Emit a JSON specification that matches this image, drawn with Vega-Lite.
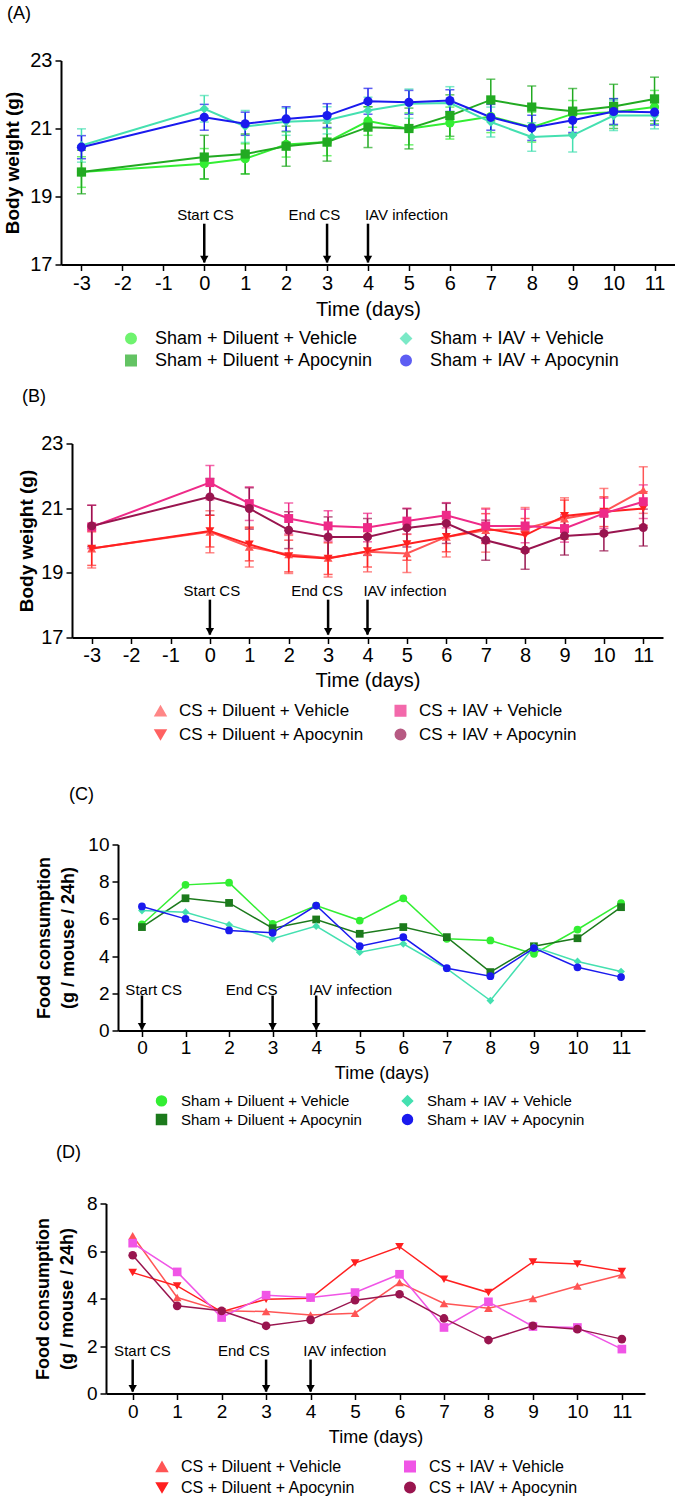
{
"$schema": "https://vega.github.io/schema/vega-lite/v6.json",
"padding": {"left": 0, "top": 4.5, "right": 0, "bottom": 0},
"background": "white",
"spacing": 0,
"resolve": {"scale": {"x": "independent", "y": "independent", "color": "independent", "shape": "independent"}, "legend": {"color": "independent", "shape": "independent"}, "axis": {"x": "independent", "y": "independent"}},
"config": {
  "view": {"stroke": null},
  "font": "Liberation Sans",
  "axis": {"domainColor": "#000", "domainWidth": 2, "tickColor": "#000", "tickWidth": 1.5, "tickSize": 6, "labelColor": "#000", "titleColor": "#000", "grid": false, "labelFlush": false, "labelOverlap": false, "labelFont": "Liberation Sans", "titleFont": "Liberation Sans"},
  "legend": {"labelColor": "#000", "labelFont": "Liberation Sans", "padding": 0, "symbolStrokeWidth": 2, "labelLimit": 400},
  "title": {"color": "#000", "font": "Liberation Sans", "fontWeight": "normal", "anchor": "start", "frame": "group", "baseline": "bottom"}
},
"datasets": {
  "dA": [
    {"group": "Sham + Diluent + Vehicle", "day": -3, "v": 19.72, "e": 0.45},
    {"group": "Sham + Diluent + Vehicle", "day": 0, "v": 19.96, "e": 0.45},
    {"group": "Sham + Diluent + Vehicle", "day": 1, "v": 20.11, "e": 0.44},
    {"group": "Sham + Diluent + Vehicle", "day": 2, "v": 20.53, "e": 0.37},
    {"group": "Sham + Diluent + Vehicle", "day": 3, "v": 20.6, "e": 0.4},
    {"group": "Sham + Diluent + Vehicle", "day": 4, "v": 21.22, "e": 0.42},
    {"group": "Sham + Diluent + Vehicle", "day": 5, "v": 20.99, "e": 0.47},
    {"group": "Sham + Diluent + Vehicle", "day": 6, "v": 21.16, "e": 0.47},
    {"group": "Sham + Diluent + Vehicle", "day": 7, "v": 21.35, "e": 0.47},
    {"group": "Sham + Diluent + Vehicle", "day": 8, "v": 21.04, "e": 0.44},
    {"group": "Sham + Diluent + Vehicle", "day": 9, "v": 21.43, "e": 0.39},
    {"group": "Sham + Diluent + Vehicle", "day": 10, "v": 21.48, "e": 0.39},
    {"group": "Sham + Diluent + Vehicle", "day": 11, "v": 21.63, "e": 0.49},
    {"group": "Sham + Diluent + Apocynin", "day": -3, "v": 19.72, "e": 0.64},
    {"group": "Sham + Diluent + Apocynin", "day": 0, "v": 20.16, "e": 0.64},
    {"group": "Sham + Diluent + Apocynin", "day": 1, "v": 20.25, "e": 0.59},
    {"group": "Sham + Diluent + Apocynin", "day": 2, "v": 20.48, "e": 0.59},
    {"group": "Sham + Diluent + Apocynin", "day": 3, "v": 20.6, "e": 0.56},
    {"group": "Sham + Diluent + Apocynin", "day": 4, "v": 21.04, "e": 0.6},
    {"group": "Sham + Diluent + Apocynin", "day": 5, "v": 21.0, "e": 0.6},
    {"group": "Sham + Diluent + Apocynin", "day": 6, "v": 21.38, "e": 0.61},
    {"group": "Sham + Diluent + Apocynin", "day": 7, "v": 21.84, "e": 0.61},
    {"group": "Sham + Diluent + Apocynin", "day": 8, "v": 21.63, "e": 0.62},
    {"group": "Sham + Diluent + Apocynin", "day": 9, "v": 21.51, "e": 0.67},
    {"group": "Sham + Diluent + Apocynin", "day": 10, "v": 21.65, "e": 0.65},
    {"group": "Sham + Diluent + Apocynin", "day": 11, "v": 21.87, "e": 0.64},
    {"group": "Sham + IAV + Vehicle", "day": -3, "v": 20.5, "e": 0.49},
    {"group": "Sham + IAV + Vehicle", "day": 0, "v": 21.58, "e": 0.39},
    {"group": "Sham + IAV + Vehicle", "day": 1, "v": 21.06, "e": 0.47},
    {"group": "Sham + IAV + Vehicle", "day": 2, "v": 21.2, "e": 0.4},
    {"group": "Sham + IAV + Vehicle", "day": 3, "v": 21.24, "e": 0.4},
    {"group": "Sham + IAV + Vehicle", "day": 4, "v": 21.53, "e": 0.39},
    {"group": "Sham + IAV + Vehicle", "day": 5, "v": 21.73, "e": 0.43},
    {"group": "Sham + IAV + Vehicle", "day": 6, "v": 21.75, "e": 0.48},
    {"group": "Sham + IAV + Vehicle", "day": 7, "v": 21.19, "e": 0.44},
    {"group": "Sham + IAV + Vehicle", "day": 8, "v": 20.75, "e": 0.42},
    {"group": "Sham + IAV + Vehicle", "day": 9, "v": 20.8, "e": 0.49},
    {"group": "Sham + IAV + Vehicle", "day": 10, "v": 21.38, "e": 0.44},
    {"group": "Sham + IAV + Vehicle", "day": 11, "v": 21.38, "e": 0.39},
    {"group": "Sham + IAV + Apocynin", "day": -3, "v": 20.45, "e": 0.34},
    {"group": "Sham + IAV + Apocynin", "day": 0, "v": 21.33, "e": 0.38},
    {"group": "Sham + IAV + Apocynin", "day": 1, "v": 21.14, "e": 0.34},
    {"group": "Sham + IAV + Apocynin", "day": 2, "v": 21.28, "e": 0.36},
    {"group": "Sham + IAV + Apocynin", "day": 3, "v": 21.38, "e": 0.35},
    {"group": "Sham + IAV + Apocynin", "day": 4, "v": 21.8, "e": 0.38},
    {"group": "Sham + IAV + Apocynin", "day": 5, "v": 21.77, "e": 0.35},
    {"group": "Sham + IAV + Apocynin", "day": 6, "v": 21.82, "e": 0.32},
    {"group": "Sham + IAV + Apocynin", "day": 7, "v": 21.33, "e": 0.38},
    {"group": "Sham + IAV + Apocynin", "day": 8, "v": 21.02, "e": 0.37},
    {"group": "Sham + IAV + Apocynin", "day": 9, "v": 21.24, "e": 0.36},
    {"group": "Sham + IAV + Apocynin", "day": 10, "v": 21.5, "e": 0.38},
    {"group": "Sham + IAV + Apocynin", "day": 11, "v": 21.48, "e": 0.38}
  ],
  "dB": [
    {"group": "CS + Diluent + Vehicle", "day": -3, "v": 19.75, "e": 0.6},
    {"group": "CS + Diluent + Vehicle", "day": 0, "v": 20.27, "e": 0.65},
    {"group": "CS + Diluent + Vehicle", "day": 1, "v": 19.8, "e": 0.62},
    {"group": "CS + Diluent + Vehicle", "day": 2, "v": 19.57, "e": 0.59},
    {"group": "CS + Diluent + Vehicle", "day": 3, "v": 19.46, "e": 0.59},
    {"group": "CS + Diluent + Vehicle", "day": 4, "v": 19.65, "e": 0.62},
    {"group": "CS + Diluent + Vehicle", "day": 5, "v": 19.6, "e": 0.59},
    {"group": "CS + Diluent + Vehicle", "day": 6, "v": 20.11, "e": 0.62},
    {"group": "CS + Diluent + Vehicle", "day": 7, "v": 20.32, "e": 0.68},
    {"group": "CS + Diluent + Vehicle", "day": 8, "v": 20.37, "e": 0.65},
    {"group": "CS + Diluent + Vehicle", "day": 9, "v": 20.68, "e": 0.64},
    {"group": "CS + Diluent + Vehicle", "day": 10, "v": 20.89, "e": 0.72},
    {"group": "CS + Diluent + Vehicle", "day": 11, "v": 21.56, "e": 0.72},
    {"group": "CS + Diluent + Apocynin", "day": -3, "v": 19.75, "e": 0.52},
    {"group": "CS + Diluent + Apocynin", "day": 0, "v": 20.29, "e": 0.49},
    {"group": "CS + Diluent + Apocynin", "day": 1, "v": 19.88, "e": 0.51},
    {"group": "CS + Diluent + Apocynin", "day": 2, "v": 19.52, "e": 0.49},
    {"group": "CS + Diluent + Apocynin", "day": 3, "v": 19.44, "e": 0.49},
    {"group": "CS + Diluent + Apocynin", "day": 4, "v": 19.67, "e": 0.49},
    {"group": "CS + Diluent + Apocynin", "day": 5, "v": 19.89, "e": 0.5},
    {"group": "CS + Diluent + Apocynin", "day": 6, "v": 20.11, "e": 0.46},
    {"group": "CS + Diluent + Apocynin", "day": 7, "v": 20.37, "e": 0.46},
    {"group": "CS + Diluent + Apocynin", "day": 8, "v": 20.16, "e": 0.52},
    {"group": "CS + Diluent + Apocynin", "day": 9, "v": 20.76, "e": 0.49},
    {"group": "CS + Diluent + Apocynin", "day": 10, "v": 20.89, "e": 0.46},
    {"group": "CS + Diluent + Apocynin", "day": 11, "v": 20.99, "e": 0.52},
    {"group": "CS + IAV + Vehicle", "day": -3, "v": 20.42, "e": 0.67},
    {"group": "CS + IAV + Vehicle", "day": 0, "v": 21.79, "e": 0.53},
    {"group": "CS + IAV + Vehicle", "day": 1, "v": 21.14, "e": 0.52},
    {"group": "CS + IAV + Vehicle", "day": 2, "v": 20.68, "e": 0.48},
    {"group": "CS + IAV + Vehicle", "day": 3, "v": 20.45, "e": 0.47},
    {"group": "CS + IAV + Vehicle", "day": 4, "v": 20.4, "e": 0.44},
    {"group": "CS + IAV + Vehicle", "day": 5, "v": 20.6, "e": 0.4},
    {"group": "CS + IAV + Vehicle", "day": 6, "v": 20.78, "e": 0.39},
    {"group": "CS + IAV + Vehicle", "day": 7, "v": 20.45, "e": 0.52},
    {"group": "CS + IAV + Vehicle", "day": 8, "v": 20.45, "e": 0.52},
    {"group": "CS + IAV + Vehicle", "day": 9, "v": 20.37, "e": 0.42},
    {"group": "CS + IAV + Vehicle", "day": 10, "v": 20.84, "e": 0.47},
    {"group": "CS + IAV + Vehicle", "day": 11, "v": 21.2, "e": 0.52},
    {"group": "CS + IAV + Apocynin", "day": -3, "v": 20.45, "e": 0.64},
    {"group": "CS + IAV + Apocynin", "day": 0, "v": 21.35, "e": 0.57},
    {"group": "CS + IAV + Apocynin", "day": 1, "v": 20.99, "e": 0.64},
    {"group": "CS + IAV + Apocynin", "day": 2, "v": 20.32, "e": 0.57},
    {"group": "CS + IAV + Apocynin", "day": 3, "v": 20.11, "e": 0.62},
    {"group": "CS + IAV + Apocynin", "day": 4, "v": 20.11, "e": 0.57},
    {"group": "CS + IAV + Apocynin", "day": 5, "v": 20.39, "e": 0.59},
    {"group": "CS + IAV + Apocynin", "day": 6, "v": 20.53, "e": 0.62},
    {"group": "CS + IAV + Apocynin", "day": 7, "v": 20.01, "e": 0.62},
    {"group": "CS + IAV + Apocynin", "day": 8, "v": 19.7, "e": 0.59},
    {"group": "CS + IAV + Apocynin", "day": 9, "v": 20.14, "e": 0.59},
    {"group": "CS + IAV + Apocynin", "day": 10, "v": 20.22, "e": 0.54},
    {"group": "CS + IAV + Apocynin", "day": 11, "v": 20.4, "e": 0.57}
  ],
  "dC": [
    {"group": "Sham + Diluent + Vehicle", "day": 0, "v": 5.7},
    {"group": "Sham + Diluent + Vehicle", "day": 1, "v": 7.83},
    {"group": "Sham + Diluent + Vehicle", "day": 2, "v": 7.95},
    {"group": "Sham + Diluent + Vehicle", "day": 3, "v": 5.73},
    {"group": "Sham + Diluent + Vehicle", "day": 4, "v": 6.72},
    {"group": "Sham + Diluent + Vehicle", "day": 5, "v": 5.91},
    {"group": "Sham + Diluent + Vehicle", "day": 6, "v": 7.11},
    {"group": "Sham + Diluent + Vehicle", "day": 7, "v": 4.93},
    {"group": "Sham + Diluent + Vehicle", "day": 8, "v": 4.84},
    {"group": "Sham + Diluent + Vehicle", "day": 9, "v": 4.12},
    {"group": "Sham + Diluent + Vehicle", "day": 10, "v": 5.43},
    {"group": "Sham + Diluent + Vehicle", "day": 11, "v": 6.85},
    {"group": "Sham + Diluent + Apocynin", "day": 0, "v": 5.56},
    {"group": "Sham + Diluent + Apocynin", "day": 1, "v": 7.11},
    {"group": "Sham + Diluent + Apocynin", "day": 2, "v": 6.86},
    {"group": "Sham + Diluent + Apocynin", "day": 3, "v": 5.5},
    {"group": "Sham + Diluent + Apocynin", "day": 4, "v": 5.97},
    {"group": "Sham + Diluent + Apocynin", "day": 5, "v": 5.2},
    {"group": "Sham + Diluent + Apocynin", "day": 6, "v": 5.56},
    {"group": "Sham + Diluent + Apocynin", "day": 7, "v": 5.02},
    {"group": "Sham + Diluent + Apocynin", "day": 8, "v": 3.14},
    {"group": "Sham + Diluent + Apocynin", "day": 9, "v": 4.53},
    {"group": "Sham + Diluent + Apocynin", "day": 10, "v": 4.96},
    {"group": "Sham + Diluent + Apocynin", "day": 11, "v": 6.63},
    {"group": "Sham + IAV + Vehicle", "day": 0, "v": 6.45},
    {"group": "Sham + IAV + Vehicle", "day": 1, "v": 6.36},
    {"group": "Sham + IAV + Vehicle", "day": 2, "v": 5.68},
    {"group": "Sham + IAV + Vehicle", "day": 3, "v": 4.93},
    {"group": "Sham + IAV + Vehicle", "day": 4, "v": 5.61},
    {"group": "Sham + IAV + Vehicle", "day": 5, "v": 4.21},
    {"group": "Sham + IAV + Vehicle", "day": 6, "v": 4.66},
    {"group": "Sham + IAV + Vehicle", "day": 7, "v": 3.32},
    {"group": "Sham + IAV + Vehicle", "day": 8, "v": 1.61},
    {"group": "Sham + IAV + Vehicle", "day": 9, "v": 4.5},
    {"group": "Sham + IAV + Vehicle", "day": 10, "v": 3.71},
    {"group": "Sham + IAV + Vehicle", "day": 11, "v": 3.17},
    {"group": "Sham + IAV + Apocynin", "day": 0, "v": 6.67},
    {"group": "Sham + IAV + Apocynin", "day": 1, "v": 6.0},
    {"group": "Sham + IAV + Apocynin", "day": 2, "v": 5.38},
    {"group": "Sham + IAV + Apocynin", "day": 3, "v": 5.25},
    {"group": "Sham + IAV + Apocynin", "day": 4, "v": 6.72},
    {"group": "Sham + IAV + Apocynin", "day": 5, "v": 4.53},
    {"group": "Sham + IAV + Apocynin", "day": 6, "v": 5.02},
    {"group": "Sham + IAV + Apocynin", "day": 7, "v": 3.35},
    {"group": "Sham + IAV + Apocynin", "day": 8, "v": 2.92},
    {"group": "Sham + IAV + Apocynin", "day": 9, "v": 4.43},
    {"group": "Sham + IAV + Apocynin", "day": 10, "v": 3.4},
    {"group": "Sham + IAV + Apocynin", "day": 11, "v": 2.87}
  ],
  "dD": [
    {"group": "CS + Diluent + Vehicle", "day": 0, "v": 6.64},
    {"group": "CS + Diluent + Vehicle", "day": 1, "v": 4.04},
    {"group": "CS + Diluent + Vehicle", "day": 2, "v": 3.48},
    {"group": "CS + Diluent + Vehicle", "day": 3, "v": 3.45},
    {"group": "CS + Diluent + Vehicle", "day": 4, "v": 3.31},
    {"group": "CS + Diluent + Vehicle", "day": 5, "v": 3.38},
    {"group": "CS + Diluent + Vehicle", "day": 6, "v": 4.67},
    {"group": "CS + Diluent + Vehicle", "day": 7, "v": 3.79},
    {"group": "CS + Diluent + Vehicle", "day": 8, "v": 3.59},
    {"group": "CS + Diluent + Vehicle", "day": 9, "v": 4.0},
    {"group": "CS + Diluent + Vehicle", "day": 10, "v": 4.53},
    {"group": "CS + Diluent + Vehicle", "day": 11, "v": 5.0},
    {"group": "CS + Diluent + Apocynin", "day": 0, "v": 5.09},
    {"group": "CS + Diluent + Apocynin", "day": 1, "v": 4.53},
    {"group": "CS + Diluent + Apocynin", "day": 2, "v": 3.44},
    {"group": "CS + Diluent + Apocynin", "day": 3, "v": 3.97},
    {"group": "CS + Diluent + Apocynin", "day": 4, "v": 4.01},
    {"group": "CS + Diluent + Apocynin", "day": 5, "v": 5.49},
    {"group": "CS + Diluent + Apocynin", "day": 6, "v": 6.18},
    {"group": "CS + Diluent + Apocynin", "day": 7, "v": 4.81},
    {"group": "CS + Diluent + Apocynin", "day": 8, "v": 4.25},
    {"group": "CS + Diluent + Apocynin", "day": 9, "v": 5.54},
    {"group": "CS + Diluent + Apocynin", "day": 10, "v": 5.45},
    {"group": "CS + Diluent + Apocynin", "day": 11, "v": 5.14},
    {"group": "CS + IAV + Vehicle", "day": 0, "v": 6.33},
    {"group": "CS + IAV + Vehicle", "day": 1, "v": 5.12},
    {"group": "CS + IAV + Vehicle", "day": 2, "v": 3.2},
    {"group": "CS + IAV + Vehicle", "day": 3, "v": 4.14},
    {"group": "CS + IAV + Vehicle", "day": 4, "v": 4.04},
    {"group": "CS + IAV + Vehicle", "day": 5, "v": 4.25},
    {"group": "CS + IAV + Vehicle", "day": 6, "v": 5.02},
    {"group": "CS + IAV + Vehicle", "day": 7, "v": 2.78},
    {"group": "CS + IAV + Vehicle", "day": 8, "v": 3.86},
    {"group": "CS + IAV + Vehicle", "day": 9, "v": 2.82},
    {"group": "CS + IAV + Vehicle", "day": 10, "v": 2.78},
    {"group": "CS + IAV + Vehicle", "day": 11, "v": 1.87},
    {"group": "CS + IAV + Apocynin", "day": 0, "v": 5.82},
    {"group": "CS + IAV + Apocynin", "day": 1, "v": 3.69},
    {"group": "CS + IAV + Apocynin", "day": 2, "v": 3.48},
    {"group": "CS + IAV + Apocynin", "day": 3, "v": 2.85},
    {"group": "CS + IAV + Apocynin", "day": 4, "v": 3.1},
    {"group": "CS + IAV + Apocynin", "day": 5, "v": 3.93},
    {"group": "CS + IAV + Apocynin", "day": 6, "v": 4.18},
    {"group": "CS + IAV + Apocynin", "day": 7, "v": 3.16},
    {"group": "CS + IAV + Apocynin", "day": 8, "v": 2.25},
    {"group": "CS + IAV + Apocynin", "day": 9, "v": 2.85},
    {"group": "CS + IAV + Apocynin", "day": 10, "v": 2.71},
    {"group": "CS + IAV + Apocynin", "day": 11, "v": 2.29}
  ],
  "aA": [
    {"label": "Start CS", "day": 0, "lx": 0.03, "ly": 18.47, "top": 18.2, "tip": 17.06},
    {"label": "End CS", "day": 3, "lx": 2.69, "ly": 18.47, "top": 18.2, "tip": 17.06},
    {"label": "IAV infection", "day": 4, "lx": 4.94, "ly": 18.47, "top": 18.2, "tip": 17.06}
  ],
  "aB": [
    {"label": "Start CS", "day": 0, "lx": 0.05, "ly": 18.45, "top": 18.17, "tip": 17.09},
    {"label": "End CS", "day": 3, "lx": 2.72, "ly": 18.45, "top": 18.17, "tip": 17.09},
    {"label": "IAV infection", "day": 4, "lx": 4.95, "ly": 18.45, "top": 18.17, "tip": 17.09}
  ],
  "aC": [
    {"label": "Start CS", "day": 0, "lx": 0.27, "ly": 2.2, "top": 1.88, "tip": 0.05},
    {"label": "End CS", "day": 3, "lx": 2.52, "ly": 2.2, "top": 1.88, "tip": 0.05},
    {"label": "IAV infection", "day": 4, "lx": 4.79, "ly": 2.2, "top": 1.88, "tip": 0.05}
  ],
  "aD": [
    {"label": "Start CS", "day": 0, "lx": 0.22, "ly": 1.77, "top": 1.43, "tip": 0.08},
    {"label": "End CS", "day": 3, "lx": 2.5, "ly": 1.77, "top": 1.43, "tip": 0.08},
    {"label": "IAV infection", "day": 4, "lx": 4.77, "ly": 1.77, "top": 1.43, "tip": 0.08}
  ]
},
"vconcat": [
 {"hconcat": [
   {"width": 61, "height": 327, "data": {"values": []}, "mark": "point"},
   {"width": 614, "height": 204,
    "title": {"text": "(A)", "dx": -54, "offset": 28, "fontSize": 18},
    "layer": [
     {"data": {"name": "dA"}, "mark": {"type": "errorbar", "ticks": true, "thickness": 1.5, "size": 9},
      "encoding": {
        "x": {"field": "day", "type": "quantitative", "scale": {"domain": [-3.5, 11.5], "nice": false, "zero": false}, "axis": {"title": "Time (days)", "values": [-3,-2,-1,0,1,2,3,4,5,6,7,8,9,10,11], "labelExpr": "'' + datum.value", "labelFontSize": 20, "titleFontSize": 20, "titleFontWeight": "normal", "labelPadding": 3, "titlePadding": 6}},
        "y": {"field": "v", "type": "quantitative", "scale": {"domain": [17, 23], "nice": false, "zero": false}, "axis": {"title": "Body weight (g)", "values": [17, 19, 21, 23], "format": "d", "labelFontSize": 20, "titleFontSize": 19, "titleFontWeight": "bold", "labelPadding": 3, "titlePadding": 7}},
        "yError": {"field": "e"},
        "color": {"field": "group", "type": "nominal", "scale": {"domain": ["Sham + Diluent + Vehicle", "Sham + Diluent + Apocynin", "Sham + IAV + Vehicle", "Sham + IAV + Apocynin"], "range": ["#33ee33", "#22aa22", "#44e0b0", "#1a1aee"]}}}},
     {"data": {"name": "dA"}, "mark": {"type": "line", "strokeWidth": 2},
      "encoding": {
        "x": {"field": "day", "type": "quantitative", "scale": {"domain": [-3.5, 11.5], "nice": false, "zero": false}, "axis": {"title": "Time (days)", "values": [-3,-2,-1,0,1,2,3,4,5,6,7,8,9,10,11], "labelExpr": "'' + datum.value", "labelFontSize": 20, "titleFontSize": 20, "titleFontWeight": "normal", "labelPadding": 3, "titlePadding": 6}},
        "y": {"field": "v", "type": "quantitative", "scale": {"domain": [17, 23], "nice": false, "zero": false}, "axis": {"title": "Body weight (g)", "values": [17, 19, 21, 23], "format": "d", "labelFontSize": 20, "titleFontSize": 19, "titleFontWeight": "bold", "labelPadding": 3, "titlePadding": 7}},
        "color": {"field": "group", "type": "nominal", "scale": {"domain": ["Sham + Diluent + Vehicle", "Sham + Diluent + Apocynin", "Sham + IAV + Vehicle", "Sham + IAV + Apocynin"], "range": ["#33ee33", "#22aa22", "#44e0b0", "#1a1aee"]}}}},
     {"data": {"name": "dA"}, "mark": {"type": "point", "filled": true, "opacity": 1, "size": 85},
      "encoding": {
        "x": {"field": "day", "type": "quantitative", "scale": {"domain": [-3.5, 11.5], "nice": false, "zero": false}, "axis": {"title": "Time (days)", "values": [-3,-2,-1,0,1,2,3,4,5,6,7,8,9,10,11], "labelExpr": "'' + datum.value", "labelFontSize": 20, "titleFontSize": 20, "titleFontWeight": "normal", "labelPadding": 3, "titlePadding": 6}},
        "y": {"field": "v", "type": "quantitative", "scale": {"domain": [17, 23], "nice": false, "zero": false}, "axis": {"title": "Body weight (g)", "values": [17, 19, 21, 23], "format": "d", "labelFontSize": 20, "titleFontSize": 19, "titleFontWeight": "bold", "labelPadding": 3, "titlePadding": 7}},
        "shape": {"field": "group", "type": "nominal", "scale": {"domain": ["Sham + Diluent + Vehicle", "Sham + Diluent + Apocynin", "Sham + IAV + Vehicle", "Sham + IAV + Apocynin"], "range": ["circle", "square", "diamond", "circle"]},
          "legend": {"title": null, "orient": "none", "legendX": 61, "legendY": 269, "columns": 2, "columnPadding": 23, "rowPadding": 4, "labelFontSize": 18, "labelOffset": 15, "symbolSize": 100}},
        "color": {"field": "group", "type": "nominal", "scale": {"domain": ["Sham + Diluent + Vehicle", "Sham + Diluent + Apocynin", "Sham + IAV + Vehicle", "Sham + IAV + Apocynin"], "range": ["#33ee33", "#22aa22", "#44e0b0", "#1a1aee"]},
          "legend": {"title": null, "orient": "none", "legendX": 61, "legendY": 269, "columns": 2, "columnPadding": 23, "rowPadding": 4, "labelFontSize": 18, "labelOffset": 15, "symbolSize": 100}}}},
     {"data": {"name": "aA"}, "mark": {"type": "rule", "color": "#000", "strokeWidth": 2.5},
      "encoding": {
        "x": {"field": "day", "type": "quantitative", "scale": {"domain": [-3.5, 11.5], "nice": false, "zero": false}, "axis": {"title": "Time (days)", "values": [-3,-2,-1,0,1,2,3,4,5,6,7,8,9,10,11], "labelExpr": "'' + datum.value", "labelFontSize": 20, "titleFontSize": 20, "titleFontWeight": "normal", "labelPadding": 3, "titlePadding": 6}},
        "y": {"field": "top", "type": "quantitative", "scale": {"domain": [17, 23], "nice": false, "zero": false}, "axis": {"title": "Body weight (g)", "values": [17, 19, 21, 23], "format": "d", "labelFontSize": 20, "titleFontSize": 19, "titleFontWeight": "bold", "labelPadding": 3, "titlePadding": 7}},
        "y2": {"field": "tip"}}},
     {"data": {"name": "aA"}, "mark": {"type": "point", "shape": "triangle-down", "filled": true, "color": "#000", "opacity": 1, "size": 70, "yOffset": -3},
      "encoding": {
        "x": {"field": "day", "type": "quantitative", "scale": {"domain": [-3.5, 11.5], "nice": false, "zero": false}, "axis": {"title": "Time (days)", "values": [-3,-2,-1,0,1,2,3,4,5,6,7,8,9,10,11], "labelExpr": "'' + datum.value", "labelFontSize": 20, "titleFontSize": 20, "titleFontWeight": "normal", "labelPadding": 3, "titlePadding": 6}},
        "y": {"field": "tip", "type": "quantitative", "scale": {"domain": [17, 23], "nice": false, "zero": false}, "axis": {"title": "Body weight (g)", "values": [17, 19, 21, 23], "format": "d", "labelFontSize": 20, "titleFontSize": 19, "titleFontWeight": "bold", "labelPadding": 3, "titlePadding": 7}}}},
     {"data": {"name": "aA"}, "mark": {"type": "text", "fontSize": 15, "color": "#000", "align": "center", "baseline": "middle"},
      "encoding": {
        "x": {"field": "lx", "type": "quantitative", "scale": {"domain": [-3.5, 11.5], "nice": false, "zero": false}, "axis": {"title": "Time (days)", "values": [-3,-2,-1,0,1,2,3,4,5,6,7,8,9,10,11], "labelExpr": "'' + datum.value", "labelFontSize": 20, "titleFontSize": 20, "titleFontWeight": "normal", "labelPadding": 3, "titlePadding": 6}},
        "y": {"field": "ly", "type": "quantitative", "scale": {"domain": [17, 23], "nice": false, "zero": false}, "axis": {"title": "Body weight (g)", "values": [17, 19, 21, 23], "format": "d", "labelFontSize": 20, "titleFontSize": 19, "titleFontWeight": "bold", "labelPadding": 3, "titlePadding": 7}},
        "text": {"field": "label"}}}
    ]}
  ],
  "spacing": 0, "bounds": "flush",
  "resolve": {"scale": {"x": "independent", "y": "independent", "color": "independent", "shape": "independent"}, "legend": {"color": "independent", "shape": "independent"}}},
 {"hconcat": [
   {"width": 72, "height": 341.5, "data": {"values": []}, "mark": "point"},
   {"width": 591, "height": 194,
    "title": {"text": "(B)", "dx": -50, "offset": 28, "fontSize": 18},
    "layer": [
     {"data": {"name": "dB"}, "mark": {"type": "errorbar", "ticks": true, "thickness": 1.5, "size": 9},
      "encoding": {
        "x": {"field": "day", "type": "quantitative", "scale": {"domain": [-3.5, 11.5], "nice": false, "zero": false}, "axis": {"title": "Time (days)", "values": [-3,-2,-1,0,1,2,3,4,5,6,7,8,9,10,11], "labelExpr": "'' + datum.value", "labelFontSize": 20, "titleFontSize": 20, "titleFontWeight": "normal", "labelPadding": 2, "titlePadding": 5}},
        "y": {"field": "v", "type": "quantitative", "scale": {"domain": [17, 23], "nice": false, "zero": false}, "axis": {"title": "Body weight (g)", "values": [17, 19, 21, 23], "format": "d", "labelFontSize": 20, "titleFontSize": 19, "titleFontWeight": "bold", "labelPadding": 3, "titlePadding": 4}},
        "yError": {"field": "e"},
        "color": {"field": "group", "type": "nominal", "scale": {"domain": ["CS + Diluent + Vehicle", "CS + Diluent + Apocynin", "CS + IAV + Vehicle", "CS + IAV + Apocynin"], "range": ["#ff5555", "#ff2020", "#ee2a88", "#99154f"]}}}},
     {"data": {"name": "dB"}, "mark": {"type": "line", "strokeWidth": 2},
      "encoding": {
        "x": {"field": "day", "type": "quantitative", "scale": {"domain": [-3.5, 11.5], "nice": false, "zero": false}, "axis": {"title": "Time (days)", "values": [-3,-2,-1,0,1,2,3,4,5,6,7,8,9,10,11], "labelExpr": "'' + datum.value", "labelFontSize": 20, "titleFontSize": 20, "titleFontWeight": "normal", "labelPadding": 2, "titlePadding": 5}},
        "y": {"field": "v", "type": "quantitative", "scale": {"domain": [17, 23], "nice": false, "zero": false}, "axis": {"title": "Body weight (g)", "values": [17, 19, 21, 23], "format": "d", "labelFontSize": 20, "titleFontSize": 19, "titleFontWeight": "bold", "labelPadding": 3, "titlePadding": 4}},
        "color": {"field": "group", "type": "nominal", "scale": {"domain": ["CS + Diluent + Vehicle", "CS + Diluent + Apocynin", "CS + IAV + Vehicle", "CS + IAV + Apocynin"], "range": ["#ff5555", "#ff2020", "#ee2a88", "#99154f"]}}}},
     {"data": {"name": "dB"}, "mark": {"type": "point", "filled": true, "opacity": 1, "size": 80},
      "encoding": {
        "x": {"field": "day", "type": "quantitative", "scale": {"domain": [-3.5, 11.5], "nice": false, "zero": false}, "axis": {"title": "Time (days)", "values": [-3,-2,-1,0,1,2,3,4,5,6,7,8,9,10,11], "labelExpr": "'' + datum.value", "labelFontSize": 20, "titleFontSize": 20, "titleFontWeight": "normal", "labelPadding": 2, "titlePadding": 5}},
        "y": {"field": "v", "type": "quantitative", "scale": {"domain": [17, 23], "nice": false, "zero": false}, "axis": {"title": "Body weight (g)", "values": [17, 19, 21, 23], "format": "d", "labelFontSize": 20, "titleFontSize": 19, "titleFontWeight": "bold", "labelPadding": 3, "titlePadding": 4}},
        "shape": {"field": "group", "type": "nominal", "scale": {"domain": ["CS + Diluent + Vehicle", "CS + Diluent + Apocynin", "CS + IAV + Vehicle", "CS + IAV + Apocynin"], "range": ["triangle-up", "triangle-down", "square", "circle"]},
          "legend": {"title": null, "orient": "none", "legendX": 80, "legendY": 258.5, "columns": 2, "columnPadding": 26, "rowPadding": 5, "labelFontSize": 17, "labelOffset": 10, "symbolSize": 100}},
        "color": {"field": "group", "type": "nominal", "scale": {"domain": ["CS + Diluent + Vehicle", "CS + Diluent + Apocynin", "CS + IAV + Vehicle", "CS + IAV + Apocynin"], "range": ["#ff5555", "#ff2020", "#ee2a88", "#99154f"]},
          "legend": {"title": null, "orient": "none", "legendX": 80, "legendY": 258.5, "columns": 2, "columnPadding": 26, "rowPadding": 5, "labelFontSize": 17, "labelOffset": 10, "symbolSize": 100}}}},
     {"data": {"name": "aB"}, "mark": {"type": "rule", "color": "#000", "strokeWidth": 2.5},
      "encoding": {
        "x": {"field": "day", "type": "quantitative", "scale": {"domain": [-3.5, 11.5], "nice": false, "zero": false}, "axis": {"title": "Time (days)", "values": [-3,-2,-1,0,1,2,3,4,5,6,7,8,9,10,11], "labelExpr": "'' + datum.value", "labelFontSize": 20, "titleFontSize": 20, "titleFontWeight": "normal", "labelPadding": 2, "titlePadding": 5}},
        "y": {"field": "top", "type": "quantitative", "scale": {"domain": [17, 23], "nice": false, "zero": false}, "axis": {"title": "Body weight (g)", "values": [17, 19, 21, 23], "format": "d", "labelFontSize": 20, "titleFontSize": 19, "titleFontWeight": "bold", "labelPadding": 3, "titlePadding": 4}},
        "y2": {"field": "tip"}}},
     {"data": {"name": "aB"}, "mark": {"type": "point", "shape": "triangle-down", "filled": true, "color": "#000", "opacity": 1, "size": 70, "yOffset": -3},
      "encoding": {
        "x": {"field": "day", "type": "quantitative", "scale": {"domain": [-3.5, 11.5], "nice": false, "zero": false}, "axis": {"title": "Time (days)", "values": [-3,-2,-1,0,1,2,3,4,5,6,7,8,9,10,11], "labelExpr": "'' + datum.value", "labelFontSize": 20, "titleFontSize": 20, "titleFontWeight": "normal", "labelPadding": 2, "titlePadding": 5}},
        "y": {"field": "tip", "type": "quantitative", "scale": {"domain": [17, 23], "nice": false, "zero": false}, "axis": {"title": "Body weight (g)", "values": [17, 19, 21, 23], "format": "d", "labelFontSize": 20, "titleFontSize": 19, "titleFontWeight": "bold", "labelPadding": 3, "titlePadding": 4}}}},
     {"data": {"name": "aB"}, "mark": {"type": "text", "fontSize": 15, "color": "#000", "align": "center", "baseline": "middle"},
      "encoding": {
        "x": {"field": "lx", "type": "quantitative", "scale": {"domain": [-3.5, 11.5], "nice": false, "zero": false}, "axis": {"title": "Time (days)", "values": [-3,-2,-1,0,1,2,3,4,5,6,7,8,9,10,11], "labelExpr": "'' + datum.value", "labelFontSize": 20, "titleFontSize": 20, "titleFontWeight": "normal", "labelPadding": 2, "titlePadding": 5}},
        "y": {"field": "ly", "type": "quantitative", "scale": {"domain": [17, 23], "nice": false, "zero": false}, "axis": {"title": "Body weight (g)", "values": [17, 19, 21, 23], "format": "d", "labelFontSize": 20, "titleFontSize": 19, "titleFontWeight": "bold", "labelPadding": 3, "titlePadding": 4}},
        "text": {"field": "label"}}}
    ]}
  ],
  "spacing": 0, "bounds": "flush",
  "resolve": {"scale": {"x": "independent", "y": "independent", "color": "independent", "shape": "independent"}, "legend": {"color": "independent", "shape": "independent"}}},
 {"hconcat": [
   {"width": 118, "height": 299, "data": {"values": []}, "mark": "point"},
   {"width": 527, "height": 186,
    "title": {"text": "(C)", "dx": -49, "offset": 32, "fontSize": 18},
    "layer": [
     {"data": {"name": "dC"}, "mark": {"type": "line", "strokeWidth": 1.5},
      "encoding": {
        "x": {"field": "day", "type": "quantitative", "scale": {"domain": [-0.55, 11.55], "nice": false, "zero": false}, "axis": {"title": "Time (days)", "values": [0,1,2,3,4,5,6,7,8,9,10,11], "format": "d", "labelFontSize": 19, "titleFontSize": 18, "titleFontWeight": "normal", "labelPadding": 2, "titlePadding": 7}},
        "y": {"field": "v", "type": "quantitative", "scale": {"domain": [0, 10], "nice": false, "zero": false}, "axis": {"title": ["Food consumption", "(g / mouse / 24h)"], "values": [0, 2, 4, 6, 8, 10], "format": "d", "labelFontSize": 19, "titleFontSize": 18, "titleFontWeight": "bold", "titleLineHeight": 24, "labelPadding": 3, "titlePadding": 10}},
        "color": {"field": "group", "type": "nominal", "scale": {"domain": ["Sham + Diluent + Vehicle", "Sham + Diluent + Apocynin", "Sham + IAV + Vehicle", "Sham + IAV + Apocynin"], "range": ["#33ee33", "#1c7a1c", "#44e0b0", "#1a1aee"]}}}},
     {"data": {"name": "dC"}, "mark": {"type": "point", "filled": true, "opacity": 1, "size": 60},
      "encoding": {
        "x": {"field": "day", "type": "quantitative", "scale": {"domain": [-0.55, 11.55], "nice": false, "zero": false}, "axis": {"title": "Time (days)", "values": [0,1,2,3,4,5,6,7,8,9,10,11], "format": "d", "labelFontSize": 19, "titleFontSize": 18, "titleFontWeight": "normal", "labelPadding": 2, "titlePadding": 7}},
        "y": {"field": "v", "type": "quantitative", "scale": {"domain": [0, 10], "nice": false, "zero": false}, "axis": {"title": ["Food consumption", "(g / mouse / 24h)"], "values": [0, 2, 4, 6, 8, 10], "format": "d", "labelFontSize": 19, "titleFontSize": 18, "titleFontWeight": "bold", "titleLineHeight": 24, "labelPadding": 3, "titlePadding": 10}},
        "shape": {"field": "group", "type": "nominal", "scale": {"domain": ["Sham + Diluent + Vehicle", "Sham + Diluent + Apocynin", "Sham + IAV + Vehicle", "Sham + IAV + Apocynin"], "range": ["circle", "square", "diamond", "circle"]},
          "legend": {"title": null, "orient": "none", "legendX": 36, "legendY": 248.5, "columns": 2, "columnPadding": 35, "rowPadding": 0, "labelFontSize": 15, "labelOffset": 12, "symbolSize": 90}},
        "color": {"field": "group", "type": "nominal", "scale": {"domain": ["Sham + Diluent + Vehicle", "Sham + Diluent + Apocynin", "Sham + IAV + Vehicle", "Sham + IAV + Apocynin"], "range": ["#33ee33", "#1c7a1c", "#44e0b0", "#1a1aee"]},
          "legend": {"title": null, "orient": "none", "legendX": 36, "legendY": 248.5, "columns": 2, "columnPadding": 35, "rowPadding": 0, "labelFontSize": 15, "labelOffset": 12, "symbolSize": 90}}}},
     {"data": {"name": "aC"}, "mark": {"type": "rule", "color": "#000", "strokeWidth": 2.5},
      "encoding": {
        "x": {"field": "day", "type": "quantitative", "scale": {"domain": [-0.55, 11.55], "nice": false, "zero": false}, "axis": {"title": "Time (days)", "values": [0,1,2,3,4,5,6,7,8,9,10,11], "format": "d", "labelFontSize": 19, "titleFontSize": 18, "titleFontWeight": "normal", "labelPadding": 2, "titlePadding": 7}},
        "y": {"field": "top", "type": "quantitative", "scale": {"domain": [0, 10], "nice": false, "zero": false}, "axis": {"title": ["Food consumption", "(g / mouse / 24h)"], "values": [0, 2, 4, 6, 8, 10], "format": "d", "labelFontSize": 19, "titleFontSize": 18, "titleFontWeight": "bold", "titleLineHeight": 24, "labelPadding": 3, "titlePadding": 10}},
        "y2": {"field": "tip"}}},
     {"data": {"name": "aC"}, "mark": {"type": "point", "shape": "triangle-down", "filled": true, "color": "#000", "opacity": 1, "size": 70, "yOffset": -3},
      "encoding": {
        "x": {"field": "day", "type": "quantitative", "scale": {"domain": [-0.55, 11.55], "nice": false, "zero": false}, "axis": {"title": "Time (days)", "values": [0,1,2,3,4,5,6,7,8,9,10,11], "format": "d", "labelFontSize": 19, "titleFontSize": 18, "titleFontWeight": "normal", "labelPadding": 2, "titlePadding": 7}},
        "y": {"field": "tip", "type": "quantitative", "scale": {"domain": [0, 10], "nice": false, "zero": false}, "axis": {"title": ["Food consumption", "(g / mouse / 24h)"], "values": [0, 2, 4, 6, 8, 10], "format": "d", "labelFontSize": 19, "titleFontSize": 18, "titleFontWeight": "bold", "titleLineHeight": 24, "labelPadding": 3, "titlePadding": 10}}}},
     {"data": {"name": "aC"}, "mark": {"type": "text", "fontSize": 15, "color": "#000", "align": "center", "baseline": "middle"},
      "encoding": {
        "x": {"field": "lx", "type": "quantitative", "scale": {"domain": [-0.55, 11.55], "nice": false, "zero": false}, "axis": {"title": "Time (days)", "values": [0,1,2,3,4,5,6,7,8,9,10,11], "format": "d", "labelFontSize": 19, "titleFontSize": 18, "titleFontWeight": "normal", "labelPadding": 2, "titlePadding": 7}},
        "y": {"field": "ly", "type": "quantitative", "scale": {"domain": [0, 10], "nice": false, "zero": false}, "axis": {"title": ["Food consumption", "(g / mouse / 24h)"], "values": [0, 2, 4, 6, 8, 10], "format": "d", "labelFontSize": 19, "titleFontSize": 18, "titleFontWeight": "bold", "titleLineHeight": 24, "labelPadding": 3, "titlePadding": 10}},
        "text": {"field": "label"}}}
    ]}
  ],
  "spacing": 0, "bounds": "flush",
  "resolve": {"scale": {"x": "independent", "y": "independent", "color": "independent", "shape": "independent"}, "legend": {"color": "independent", "shape": "independent"}}},
 {"hconcat": [
   {"width": 106, "height": 295, "data": {"values": []}, "mark": "point"},
   {"width": 539, "height": 190,
    "title": {"text": "(D)", "dx": -50, "offset": 33, "fontSize": 18},
    "layer": [
     {"data": {"name": "dD"}, "mark": {"type": "line", "strokeWidth": 1.5},
      "encoding": {
        "x": {"field": "day", "type": "quantitative", "scale": {"domain": [-0.6, 11.52], "nice": false, "zero": false}, "axis": {"title": "Time (days)", "values": [0,1,2,3,4,5,6,7,8,9,10,11], "format": "d", "labelFontSize": 19, "titleFontSize": 18, "titleFontWeight": "normal", "labelPadding": 3, "titlePadding": 7}},
        "y": {"field": "v", "type": "quantitative", "scale": {"domain": [0, 8], "nice": false, "zero": false}, "axis": {"title": ["Food consumption", "(g / mouse / 24h)"], "values": [0, 2, 4, 6, 8], "format": "d", "labelFontSize": 19, "titleFontSize": 18, "titleFontWeight": "bold", "titleLineHeight": 24, "labelPadding": 3, "titlePadding": 10}},
        "color": {"field": "group", "type": "nominal", "scale": {"domain": ["CS + Diluent + Vehicle", "CS + Diluent + Apocynin", "CS + IAV + Vehicle", "CS + IAV + Apocynin"], "range": ["#ff5555", "#ff2020", "#f055e6", "#99154f"]}}}},
     {"data": {"name": "dD"}, "mark": {"type": "point", "filled": true, "opacity": 1, "size": 75},
      "encoding": {
        "x": {"field": "day", "type": "quantitative", "scale": {"domain": [-0.6, 11.52], "nice": false, "zero": false}, "axis": {"title": "Time (days)", "values": [0,1,2,3,4,5,6,7,8,9,10,11], "format": "d", "labelFontSize": 19, "titleFontSize": 18, "titleFontWeight": "normal", "labelPadding": 3, "titlePadding": 7}},
        "y": {"field": "v", "type": "quantitative", "scale": {"domain": [0, 8], "nice": false, "zero": false}, "axis": {"title": ["Food consumption", "(g / mouse / 24h)"], "values": [0, 2, 4, 6, 8], "format": "d", "labelFontSize": 19, "titleFontSize": 18, "titleFontWeight": "bold", "titleLineHeight": 24, "labelPadding": 3, "titlePadding": 10}},
        "shape": {"field": "group", "type": "nominal", "scale": {"domain": ["CS + Diluent + Vehicle", "CS + Diluent + Apocynin", "CS + IAV + Vehicle", "CS + IAV + Apocynin"], "range": ["triangle-up", "triangle-down", "square", "circle"]},
          "legend": {"title": null, "orient": "none", "legendX": 48, "legendY": 255, "columns": 2, "columnPadding": 45, "rowPadding": 3, "labelFontSize": 16, "labelOffset": 11, "symbolSize": 100}},
        "color": {"field": "group", "type": "nominal", "scale": {"domain": ["CS + Diluent + Vehicle", "CS + Diluent + Apocynin", "CS + IAV + Vehicle", "CS + IAV + Apocynin"], "range": ["#ff5555", "#ff2020", "#f055e6", "#99154f"]},
          "legend": {"title": null, "orient": "none", "legendX": 48, "legendY": 255, "columns": 2, "columnPadding": 45, "rowPadding": 3, "labelFontSize": 16, "labelOffset": 11, "symbolSize": 100}}}},
     {"data": {"name": "aD"}, "mark": {"type": "rule", "color": "#000", "strokeWidth": 2.5},
      "encoding": {
        "x": {"field": "day", "type": "quantitative", "scale": {"domain": [-0.6, 11.52], "nice": false, "zero": false}, "axis": {"title": "Time (days)", "values": [0,1,2,3,4,5,6,7,8,9,10,11], "format": "d", "labelFontSize": 19, "titleFontSize": 18, "titleFontWeight": "normal", "labelPadding": 3, "titlePadding": 7}},
        "y": {"field": "top", "type": "quantitative", "scale": {"domain": [0, 8], "nice": false, "zero": false}, "axis": {"title": ["Food consumption", "(g / mouse / 24h)"], "values": [0, 2, 4, 6, 8], "format": "d", "labelFontSize": 19, "titleFontSize": 18, "titleFontWeight": "bold", "titleLineHeight": 24, "labelPadding": 3, "titlePadding": 10}},
        "y2": {"field": "tip"}}},
     {"data": {"name": "aD"}, "mark": {"type": "point", "shape": "triangle-down", "filled": true, "color": "#000", "opacity": 1, "size": 70, "yOffset": -3},
      "encoding": {
        "x": {"field": "day", "type": "quantitative", "scale": {"domain": [-0.6, 11.52], "nice": false, "zero": false}, "axis": {"title": "Time (days)", "values": [0,1,2,3,4,5,6,7,8,9,10,11], "format": "d", "labelFontSize": 19, "titleFontSize": 18, "titleFontWeight": "normal", "labelPadding": 3, "titlePadding": 7}},
        "y": {"field": "tip", "type": "quantitative", "scale": {"domain": [0, 8], "nice": false, "zero": false}, "axis": {"title": ["Food consumption", "(g / mouse / 24h)"], "values": [0, 2, 4, 6, 8], "format": "d", "labelFontSize": 19, "titleFontSize": 18, "titleFontWeight": "bold", "titleLineHeight": 24, "labelPadding": 3, "titlePadding": 10}}}},
     {"data": {"name": "aD"}, "mark": {"type": "text", "fontSize": 15, "color": "#000", "align": "center", "baseline": "middle"},
      "encoding": {
        "x": {"field": "lx", "type": "quantitative", "scale": {"domain": [-0.6, 11.52], "nice": false, "zero": false}, "axis": {"title": "Time (days)", "values": [0,1,2,3,4,5,6,7,8,9,10,11], "format": "d", "labelFontSize": 19, "titleFontSize": 18, "titleFontWeight": "normal", "labelPadding": 3, "titlePadding": 7}},
        "y": {"field": "ly", "type": "quantitative", "scale": {"domain": [0, 8], "nice": false, "zero": false}, "axis": {"title": ["Food consumption", "(g / mouse / 24h)"], "values": [0, 2, 4, 6, 8], "format": "d", "labelFontSize": 19, "titleFontSize": 18, "titleFontWeight": "bold", "titleLineHeight": 24, "labelPadding": 3, "titlePadding": 10}},
        "text": {"field": "label"}}}
    ]}
  ],
  "spacing": 0, "bounds": "flush",
  "resolve": {"scale": {"x": "independent", "y": "independent", "color": "independent", "shape": "independent"}, "legend": {"color": "independent", "shape": "independent"}}}
]
}
